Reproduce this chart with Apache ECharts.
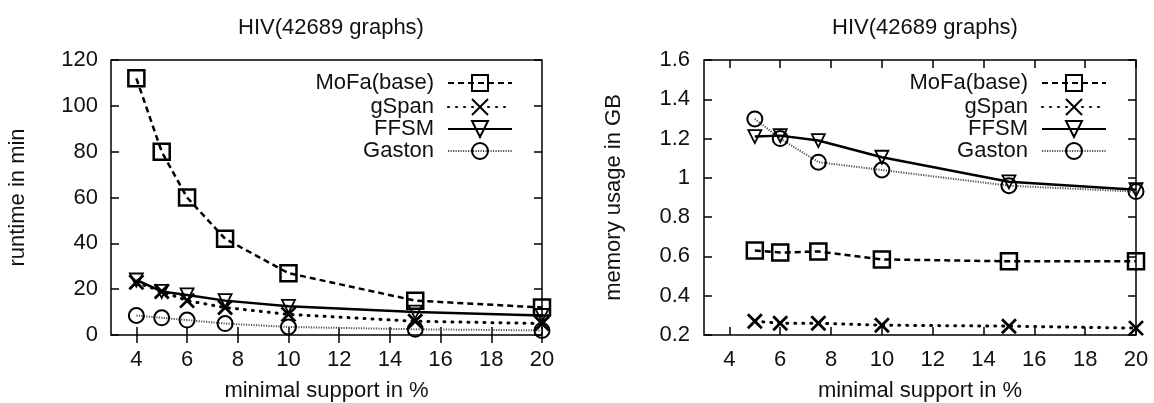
<!DOCTYPE html>
<html>
<head>
<meta charset="utf-8">
<script src="https://cdn.jsdelivr.net/npm/echarts@6/dist/echarts.min.js"></script>
<style>
  html, body { margin: 0; padding: 0; background: #fff; }
  #chart { width: 1154px; height: 403px; }
</style>
</head>
<body>
<div id="chart"></div>
<script>
// runtime chart (left)
var xRuntime = [4, 5, 6, 7.5, 10, 15, 20]
var mofaRuntime = [112, 80, 60, 42, 27, 15, 12]
var gspanRuntime = [23, 19, 15, 12, 9, 6, 5]
var ffsmRuntime = [24, 19, 17.5, 15, 12.5, 10, 8.5]
var gastonRuntime = [8.5, 7.5, 6.5, 5, 3.5, 2.5, 2]

// memory chart (right)
var xMemory = [5, 6, 7.5, 10, 15, 20]
var mofaMemory = [0.63, 0.62, 0.625, 0.585, 0.575, 0.575]
var gspanMemory = [0.27, 0.26, 0.26, 0.25, 0.245, 0.235]
var ffsmMemory = [1.21, 1.215, 1.19, 1.105, 0.98, 0.94]
var gastonMemory = [1.3, 1.2, 1.08, 1.04, 0.96, 0.93]

var xTicks = [4, 6, 8, 10, 12, 14, 16, 18, 20]
var names = ['MoFa(base)', 'gSpan', 'FFSM', 'Gaston']
var titleText = 'HIV(42689 graphs)'

var FONT = "'Liberation Sans', Arial, sans-serif"
var TXT = '#111'

function pairs(xs, ys) {
  var out = []
  for (var i = 0; i < xs.length; i++) out.push([xs[i], ys[i]])
  return out
}

// marker + line styles per algorithm
var styles = {
  'MoFa(base)': {
    symbol: 'rect', symbolSize: 16, rotate: 0, border: 2.5,
    line: { color: '#000', width: 2.5, type: [6, 4] }
  },
  'gSpan': {
    symbol: 'path://M0 0L10 10M10 0L0 10', symbolSize: 14, rotate: 0, border: 2.8,
    line: { color: '#000', width: 3, type: [1, 7], cap: 'round' }
  },
  'FFSM': {
    symbol: 'triangle', symbolSize: 13, rotate: 180, border: 1.8,
    line: { color: '#000', width: 2.5, type: 'solid' }
  },
  'Gaston': {
    symbol: 'circle', symbolSize: 15, rotate: 0, border: 2,
    line: { color: '#555', width: 2, type: [1.2, 1.3] }
  }
}

function makeSeries(name, idx, data) {
  var s = styles[name]
  return {
    name: name,
    type: 'line',
    xAxisIndex: idx * 2,
    yAxisIndex: idx * 2,
    data: data,
    symbol: s.symbol,
    symbolSize: s.symbolSize,
    symbolRotate: s.rotate,
    showAllSymbol: true,
    animation: false,
    itemStyle: { color: 'rgba(0,0,0,0)', borderColor: '#000', borderWidth: s.border },
    lineStyle: { color: s.line.color, width: s.line.width, type: s.line.type, cap: s.line.cap || 'butt' },
    emphasis: { disabled: true }
  }
}

var grids = [
  { left: 111, top: 60, width: 431, height: 275 },
  { left: 704, top: 60, width: 432, height: 275 }
]

function xAxes(gi) {
  var tick = { inside: true, length: 8, customValues: xTicks, lineStyle: { color: '#000', width: 1.5 } }
  return [
    {
      gridIndex: gi, type: 'value', min: 3, max: 20, position: 'bottom',
      axisLine: { show: false },
      axisTick: tick,
      axisLabel: { customValues: xTicks, margin: 14, fontSize: 22, color: TXT, fontFamily: FONT },
      splitLine: { show: false },
      name: 'minimal support in %', nameLocation: 'middle', nameGap: 45,
      nameTextStyle: { fontSize: 22, color: TXT, fontFamily: FONT }
    },
    {
      gridIndex: gi, type: 'value', min: 3, max: 20, position: 'top',
      axisLine: { show: false },
      axisTick: tick,
      axisLabel: { show: false },
      splitLine: { show: false }
    }
  ]
}

function yAxes(gi, min, max, step, label, gap, margin, fmt) {
  var tick = { inside: true, length: 8, lineStyle: { color: '#000', width: 1.5 } }
  return [
    {
      gridIndex: gi, type: 'value', min: min, max: max, interval: step, position: 'left',
      axisLine: { show: false },
      axisTick: tick,
      axisLabel: { margin: margin, fontSize: 22, color: TXT, fontFamily: FONT, formatter: fmt },
      splitLine: { show: false },
      name: label, nameLocation: 'middle', nameGap: gap,
      nameTextStyle: { fontSize: 22, color: TXT, fontFamily: FONT }
    },
    {
      gridIndex: gi, type: 'value', min: min, max: max, interval: step, position: 'right',
      axisLine: { show: false },
      axisTick: tick,
      axisLabel: { show: false },
      splitLine: { show: false }
    }
  ]
}

// one legend box per row so the text lines up on the right
var legends = []
var rowTops = [72, 96, 118, 140]
var legendRights = [641, 47]
for (var g = 0; g < 2; g++) {
  for (var i = 0; i < names.length; i++) {
    legends.push({
      data: [names[i]],
      right: legendRights[g],
      top: rowTops[i],
      padding: 0,
      align: 'right',
      itemWidth: 64,
      itemHeight: 20,
      selectedMode: false,
      textStyle: { fontSize: 22, color: TXT, fontFamily: FONT, padding: [0, 9, 0, 0] }
    })
  }
}

var option = {
  backgroundColor: '#fff',
  animation: false,
  title: [
    { text: titleText, left: 326, top: 12, textAlign: 'center',
      textStyle: { fontSize: 22, fontWeight: 'normal', color: TXT, fontFamily: FONT } },
    { text: titleText, left: 920, top: 12, textAlign: 'center',
      textStyle: { fontSize: 22, fontWeight: 'normal', color: TXT, fontFamily: FONT } }
  ],
  grid: grids.map(function (gr) {
    return Object.assign({
      show: true, borderColor: '#000', borderWidth: 1.5, backgroundColor: 'transparent',
      containLabel: false, outerBoundsMode: 'none'
    }, gr)
  }),
  legend: legends,
  xAxis: xAxes(0).concat(xAxes(1)),
  yAxis: yAxes(0, 0, 120, 20, 'runtime in min', 82, 13).concat(
    yAxes(1, 0.2, 1.6, 0.2, 'memory usage in GB', 79, 14, function (v) {
      return String(Math.round(v * 10) / 10)
    })
  ),
  series: [
    makeSeries('MoFa(base)', 0, pairs(xRuntime, mofaRuntime)),
    makeSeries('gSpan', 0, pairs(xRuntime, gspanRuntime)),
    makeSeries('FFSM', 0, pairs(xRuntime, ffsmRuntime)),
    makeSeries('Gaston', 0, pairs(xRuntime, gastonRuntime)),
    makeSeries('MoFa(base)', 1, pairs(xMemory, mofaMemory)),
    makeSeries('gSpan', 1, pairs(xMemory, gspanMemory)),
    makeSeries('FFSM', 1, pairs(xMemory, ffsmMemory)),
    makeSeries('Gaston', 1, pairs(xMemory, gastonMemory))
  ]
}

var myChart = echarts.init(document.getElementById('chart'))
myChart.setOption(option)
</script>
</body>
</html>
